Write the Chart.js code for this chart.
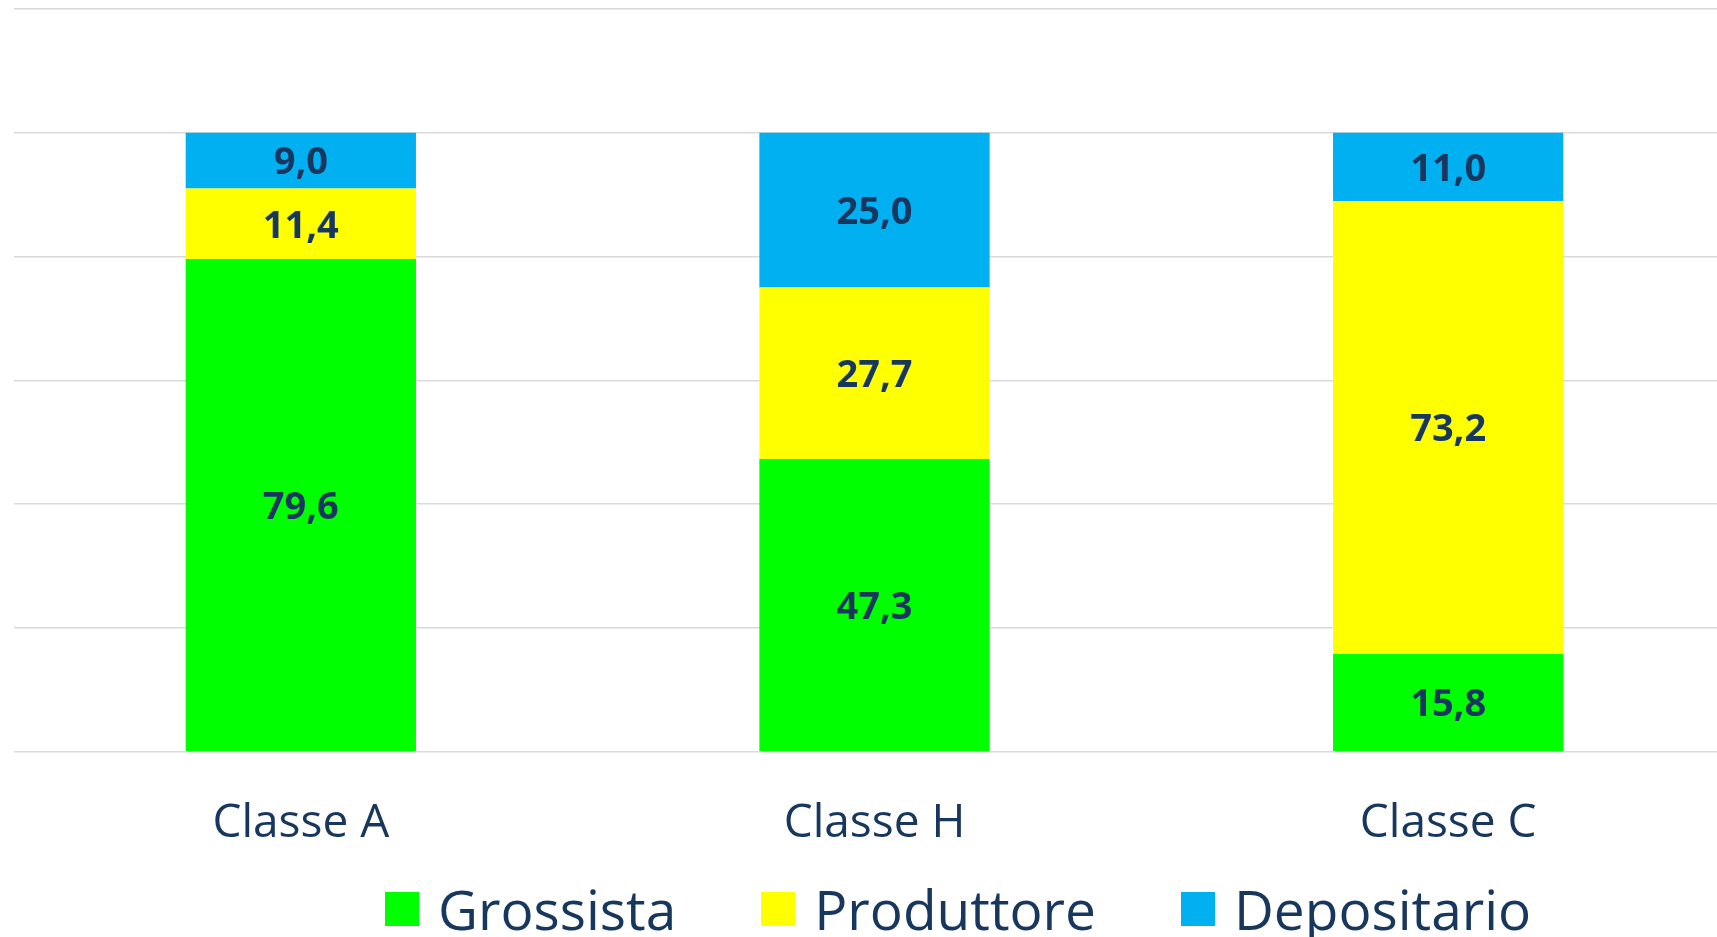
<!DOCTYPE html>
<html>
<head>
<meta charset="utf-8">
<script src="https://cdn.jsdelivr.net/npm/chart.js@4.4.1/dist/chart.umd.min.js"></script>
<style>
  html, body { margin: 0; padding: 0; background: #fff; overflow: hidden; }
  body { width: 1717px; height: 937px; position: relative; font-family: 'Open Sans', sans-serif; }
  .chart-wrap { position: absolute; left: 0; top: 0; width: 1735px; height: 887px; }
  #legend { position: absolute; left: 385px; top: 876px; display: flex; align-items: center; gap: 85px; }
  .leg-item { display: flex; align-items: center; }
  .leg-box { width: 34px; height: 34px; margin-right: 19px; }
  .leg-text { font-size: 55px; line-height: 66px; color: #17375E; }
</style>
</head>
<body>
<div class="chart-wrap"><canvas id="chart"></canvas></div>
<div id="legend"></div>
<script>
const categories = ['Classe A', 'Classe H', 'Classe C'];
const seriesNames = ['Grossista', 'Produttore', 'Depositario'];
const grossista = [79.6, 47.3, 15.8];
const produttore = [11.4, 27.7, 73.2];
const depositario = [9.0, 25.0, 11.0];
const yTicks = [0, 20, 40, 60, 80, 100, 120];

const COLORS = ['#00FF00', '#FFFF00', '#00B0F0'];
const TEXT = '#17375E';

// labels centred in every stacked segment, comma as decimal sign
const segmentLabels = {
  id: 'segmentLabels',
  afterDatasetsDraw(chart) {
    const ctx = chart.ctx;
    ctx.save();
    ctx.font = 'bold 38px "Open Sans"';
    ctx.fillStyle = TEXT;
    ctx.textAlign = 'center';
    ctx.textBaseline = 'middle';
    chart.data.datasets.forEach((ds, i) => {
      chart.getDatasetMeta(i).data.forEach((bar, j) => {
        const { x, y, base } = bar.getProps(['x', 'y', 'base'], true);
        ctx.fillText(ds.data[j].toFixed(1).replace('.', ','), x, (y + base) / 2 + 3);
      });
    });
    ctx.restore();
  }
};

const datasets = [grossista, produttore, depositario].map((vals, i) => ({
  label: seriesNames[i],
  data: vals,
  backgroundColor: COLORS[i],
  borderWidth: 0,
  barPercentage: 0.9,
  categoryPercentage: 0.446
}));

const chart = new Chart(document.getElementById('chart'), {
  type: 'bar',
  data: { labels: categories, datasets },
  plugins: [segmentLabels],
  options: {
    responsive: true, maintainAspectRatio: false, animation: false,
    layout: { padding: { top: 9, left: 14, right: 0, bottom: 0 } },
    plugins: { legend: { display: false }, tooltip: { enabled: false } },
    scales: {
      x: {
        stacked: true,
        grid: { display: false },
        border: { display: false },
        ticks: { color: TEXT, font: { family: 'Open Sans', size: 46 }, padding: 36 }
      },
      y: {
        stacked: true,
        min: yTicks[0], max: yTicks[yTicks.length - 1],
        afterBuildTicks: axis => { axis.ticks = yTicks.map(v => ({ value: v })); },
        ticks: { display: false },
        grid: { color: '#D9D9D9', lineWidth: 1.5, drawTicks: false },
        border: { display: false }
      }
    }
  }
});

document.getElementById('legend').innerHTML = chart.data.datasets.map(ds => `
  <div class="leg-item">
    <div class="leg-box" style="background:${ds.backgroundColor}"></div>
    <span class="leg-text">${ds.label}</span>
  </div>`).join('');
</script>
</body>
</html>
